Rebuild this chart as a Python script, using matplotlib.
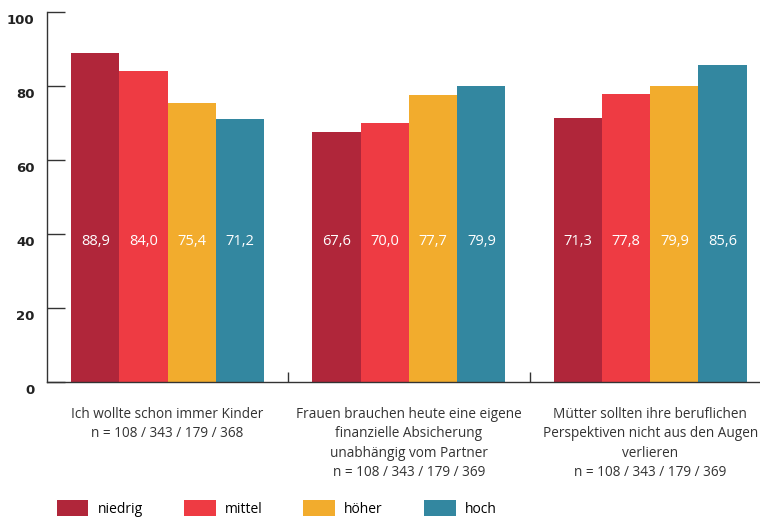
import matplotlib
matplotlib.use("Agg")
import matplotlib.pyplot as plt
import matplotlib.transforms as mtransforms
from matplotlib.patches import Patch
import numpy as np

categories = [
    "Ich wollte schon immer Kinder\nn = 108 / 343 / 179 / 368",
    "Frauen brauchen heute eine eigene\nfinanzielle Absicherung\nunabhängig vom Partner\nn = 108 / 343 / 179 / 369",
    "Mütter sollten ihre beruflichen\nPerspektiven nicht aus den Augen\nverlieren\nn = 108 / 343 / 179 / 369",
]
series = ["niedrig", "mittel", "höher", "hoch"]
values = {
    "niedrig": [88.9, 67.6, 71.3],
    "mittel": [84.0, 70.0, 77.8],
    "höher": [75.4, 77.7, 79.9],
    "hoch": [71.2, 79.9, 85.6],
}
colors = ["#B0263A", "#EE3B43", "#F2AC2D", "#3387A0"]
yticks = [0, 20, 40, 60, 80, 100]

TEXTFONT = ["Liberation Sans Narrow", "Open Sans", "DejaVu Sans"]
AXCOL = "#333333"

fig = plt.figure(figsize=(7.6, 5.22), dpi=100)
ax = fig.add_axes([47 / 760, 140 / 522, 1 - 47 / 760, 370 / 522])

x = np.arange(len(categories))
w = 0.2
for i, (name, col) in enumerate(zip(series, colors)):
    pos = x - 0.3 + i * w
    ax.bar(pos, values[name], width=w, color=col, linewidth=0)
    for px, v in zip(pos, values[name]):
        ax.text(px, 38, f"{v:.1f}".replace(".", ","), ha="center", va="center",
                color="white", fontsize=10.5, family=TEXTFONT)

ax.set_xlim(-0.5, 2.455)
ax.set_ylim(0, 100)

for s in ["top", "right"]:
    ax.spines[s].set_visible(False)
for s in ["left", "bottom"]:
    ax.spines[s].set_color(AXCOL)
    ax.spines[s].set_linewidth(1.0)

ax.set_yticks(yticks)
ax.set_yticklabels([str(t) for t in yticks])
ax.tick_params(axis="y", direction="in", length=13, width=1, color=AXCOL,
               pad=9, labelsize=9.5, labelcolor="#222222")
offset = mtransforms.ScaledTranslation(0, -7 / 100, fig.dpi_scale_trans)
for lab in ax.get_yticklabels():
    lab.set_transform(lab.get_transform() + offset)
    lab.set_fontweight("semibold")
    lab.set_family(["DejaVu Sans"])

ax.set_xticks(x)
ax.set_xticklabels(categories, family=TEXTFONT, fontsize=9.8, color="#333333",
                   linespacing=1.4, va="top")
ax.tick_params(axis="x", which="major", length=0, pad=18)
ax.set_xticks([0.5, 1.5], minor=True)
ax.tick_params(axis="x", which="minor", direction="in", length=7, width=1, color=AXCOL)

handles = [Patch(facecolor=c, edgecolor="none", label=s) for s, c in zip(series, colors)]
fig.legend(handles=handles, loc="lower left", bbox_to_anchor=(44 / 760, -0.014),
           ncol=4, frameon=False, handlelength=2.3, handleheight=1.45,
           handletextpad=0.65, columnspacing=2.95,
           prop={"family": TEXTFONT, "size": 10})

fig.savefig("out.png", dpi=100)
